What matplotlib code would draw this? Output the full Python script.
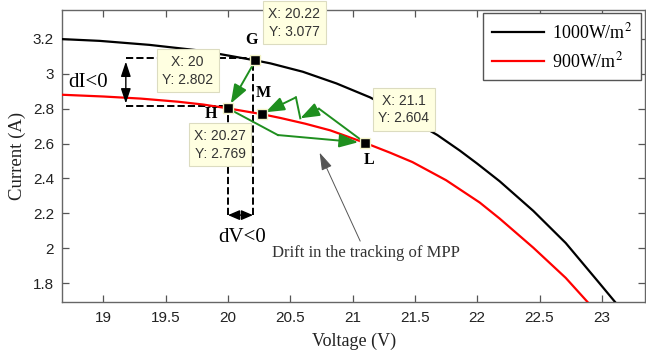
import matplotlib
matplotlib.use("Agg")
import matplotlib.pyplot as plt

plt.rcParams["mathtext.fontset"] = "stix"

# I-V characteristic at 1000 W/m2 (voltage in V, current in A)
black_v = [18.67, 18.97, 19.37, 19.78, 20.04, 20.22, 20.34, 20.60, 20.87, 21.14,
           21.40, 21.68, 21.86, 22.00, 22.18, 22.45, 22.71, 22.98, 23.115]
black_i = [3.199, 3.189, 3.166, 3.133, 3.100, 3.077, 3.060, 3.012, 2.945, 2.865,
           2.765, 2.649, 2.560, 2.485, 2.384, 2.214, 2.030, 1.800, 1.684]

# I-V characteristic at 900 W/m2
red_v = [18.67, 19.00, 19.30, 19.60, 19.80, 20.00, 20.27, 20.42, 20.62, 20.82,
         21.10, 21.30, 21.48, 21.75, 22.02, 22.18, 22.45, 22.71, 22.895]
red_i = [2.880, 2.870, 2.858, 2.840, 2.824, 2.802, 2.769, 2.747, 2.714, 2.676,
         2.604, 2.548, 2.494, 2.390, 2.262, 2.170, 2.003, 1.830, 1.684]

# Operating points picked on the curves
pt_names = ["G", "H", "M", "L"]
pt_v = [20.22, 20.00, 20.27, 21.10]
pt_i = [3.077, 2.802, 2.769, 2.604]

# Waypoints of the green tracking path
path_hl = [(20.40, 2.649)]                        # bend between H and L
path_l_back = [(20.73, 2.800), (20.58, 2.745)]    # L -> back towards M
path_m = [(20.545, 2.865)]                        # bend before M

# dI / dV construction
di_v = 19.18
di_levels = [3.090, 2.815]
dv_level = 2.19
dv_x = [20.00, 20.20]

# Drift annotation
drift_tip = (20.735, 2.548)
drift_text_pos = (21.105, 1.972)

x_ticks = [19, 19.5, 20, 20.5, 21, 21.5, 22, 22.5, 23]
y_ticks = [1.8, 2.0, 2.2, 2.4, 2.6, 2.8, 3.0, 3.2]

green = "#1f8f1f"
serif = "Liberation Serif"
sans = "Liberation Sans"

fig = plt.figure(figsize=(6.46, 3.57), dpi=100)
ax = fig.add_axes([0.0964, 0.1532, 0.9028, 0.8188])

ax.plot(black_v, black_i, color="black", lw=1.6, label="1000W/m$^2$", zorder=3)
ax.plot(red_v, red_i, color="#ff0000", lw=1.6, label="900W/m$^2$", zorder=3)

ax.set_xlim(18.67, 23.35)
ax.set_ylim(1.69, 3.366)
ax.set_xticks(x_ticks)
ax.set_xticklabels([f"{t:g}" for t in x_ticks])
ax.set_yticks(y_ticks)
ax.set_yticklabels([f"{t:g}" for t in y_ticks])
ax.tick_params(direction="in", length=5, width=0.9, color="#555555",
               top=True, right=True, labelsize=11, labelcolor="#222222", pad=6)
for lab in ax.get_xticklabels() + ax.get_yticklabels():
    lab.set_fontfamily(sans)
for sp in ax.spines.values():
    sp.set_color("#666666")
    sp.set_linewidth(1.0)

ax.set_xlabel("Voltage (V)", fontfamily=serif, fontsize=13, color="#222222", labelpad=6)
ax.set_ylabel("Current (A)", fontfamily=serif, fontsize=13.5, color="#222222", labelpad=5)

# dashed construction lines
gV, hV = pt_v[0], pt_v[1]
gI, hI = pt_i[0], pt_i[1]
ax.plot([di_v, gV], [di_levels[0], di_levels[0]], ls="--", color="black", lw=1.4, zorder=2)
ax.plot([di_v, hV], [di_levels[1], di_levels[1]], ls="--", color="black", lw=1.4, zorder=2)
ax.plot([dv_x[0], dv_x[0]], [dv_level, hI], ls="--", color="black", lw=1.4, zorder=2)
ax.plot([dv_x[1], dv_x[1]], [dv_level, gI], ls="--", color="black", lw=1.4, zorder=2)

ax.annotate("", xy=(di_v, di_levels[1] + 0.015), xytext=(di_v, di_levels[0] - 0.02),
            arrowprops=dict(arrowstyle="<|-|>,head_length=0.9,head_width=0.3",
                            color="black", lw=1.0, shrinkA=0, shrinkB=0), zorder=4)
ax.annotate("", xy=(dv_x[0], dv_level), xytext=(dv_x[1], dv_level),
            arrowprops=dict(arrowstyle="<|-|>,head_length=0.7,head_width=0.3",
                            color="black", lw=1.0, shrinkA=0, shrinkB=0), zorder=4)
ax.text(18.88, 2.95, "dI<0", fontfamily=serif, fontsize=15, ha="center", va="center")
ax.text(20.11, 2.06, "dV<0", fontfamily=serif, fontsize=15, ha="center", va="center")

# green tracking path
head = "-|>,head_length=1.15,head_width=0.42"
def green_arrow(p0, p1, shrink_end=0):
    ax.annotate("", xy=p1, xytext=p0,
                arrowprops=dict(arrowstyle=head, color=green, lw=1.4,
                                shrinkA=0, shrinkB=shrink_end), zorder=5)

def green_line(pts):
    ax.plot([p[0] for p in pts], [p[1] for p in pts], color=green, lw=1.4, zorder=5)

G = (pt_v[0], pt_i[0])
H = (pt_v[1], pt_i[1])
M = (pt_v[2], pt_i[2])
L = (pt_v[3], pt_i[3])

green_arrow(G, H, shrink_end=4)
green_line([H] + path_hl)
green_arrow(path_hl[-1], L, shrink_end=5)
green_line([L, path_l_back[0]])
green_arrow(path_l_back[0], path_l_back[1])
green_line([path_l_back[1]] + path_m)
green_arrow(path_m[-1], M, shrink_end=3)

# picked points
ax.plot(pt_v, pt_i, ls="none", marker="s", ms=7, mfc="black", mec="#f3f3c8",
        mew=1.0, zorder=7)

# point letters (offsets in points)
letter_offsets = {"G": (-3, 15), "H": (-12, -4), "M": (1, 15), "L": (3, -12)}
for name, v, i in zip(pt_names, pt_v, pt_i):
    ax.annotate(name, xy=(v, i), xytext=letter_offsets[name], textcoords="offset points",
                ha="center", va="center", fontfamily=serif, fontweight="bold",
                fontsize=11.5, zorder=8)

# data tips
tip_offsets = {"G": (28, 27), "H": (-29, 27), "M": (-30, -22), "L": (28, 24)}
for name, v, i in zip(pt_names, pt_v, pt_i):
    ax.annotate(f"X: {v:g}\nY: {i:g}", xy=(v, i), xytext=tip_offsets[name],
                textcoords="offset points", ha="center", va="center",
                fontfamily=sans, fontsize=10, color="#333333", linespacing=1.35,
                bbox=dict(boxstyle="square,pad=0.4", fc="#ffffe1", ec="#dcdcc0", lw=0.8),
                zorder=9, annotation_clip=False)

# drift annotation
ax.annotate("Drift in the tracking of MPP", xy=drift_tip, xytext=drift_text_pos,
            ha="center", va="center", fontfamily=serif, fontsize=12, color="#333333",
            arrowprops=dict(arrowstyle="-|>,head_length=0.9,head_width=0.28",
                            color="#555555", lw=0.7, shrinkA=1, shrinkB=0),
            zorder=6)

leg = ax.legend(loc="upper right", bbox_to_anchor=(0.993, 0.99), borderaxespad=0,
                prop={"family": serif, "size": 13}, handlelength=2.9,
                handletextpad=0.45, labelspacing=0.5, borderpad=0.5,
                fancybox=False, framealpha=1)
leg.get_frame().set_edgecolor("#555555")
leg.get_frame().set_linewidth(1.0)
leg.set_zorder(10)

fig.savefig("out.png", dpi=100)
